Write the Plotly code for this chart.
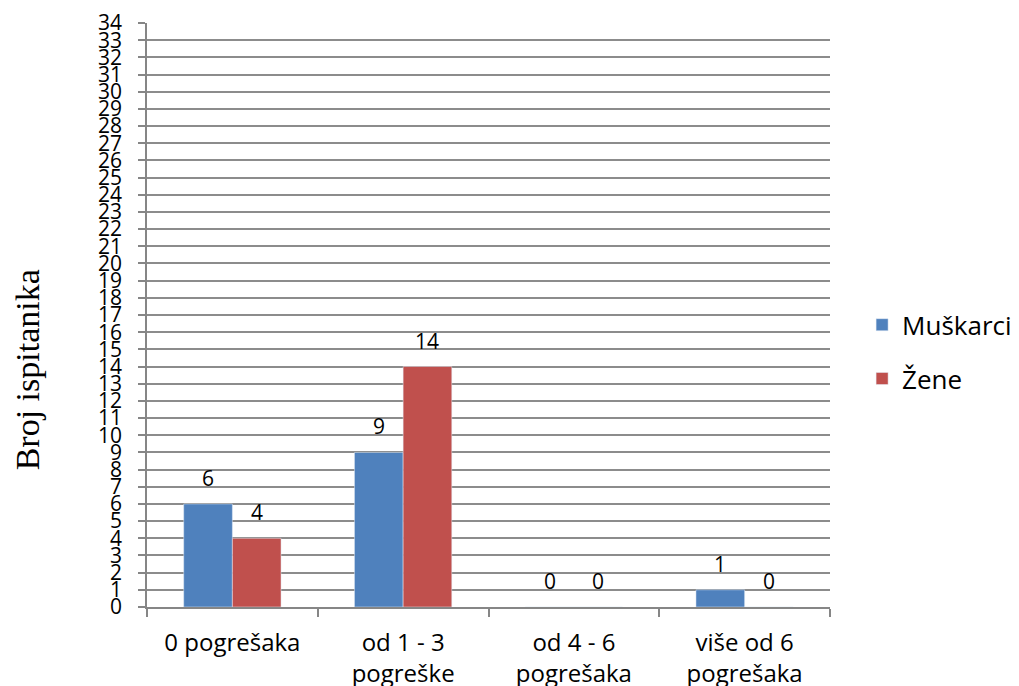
import plotly.graph_objects as go

categories = ["0 pogrešaka", "od 1 - 3<br>pogreške", "od 4 - 6<br>pogrešaka", "više od 6<br>pogrešaka"]
muskarci = [6, 9, 0, 1]
zene = [4, 14, 0, 0]
y_ticks = list(range(0, 35))

font_main = "Open Sans, Liberation Sans, sans-serif"

# layout geometry (page has an 8px body margin)
W, H = 1011, 678
ML, MR, MT, MB = 139, 189, 15, 79
BARGAP = 0.43
plot_w = W - ML - MR
cat_w = plot_w / len(categories)
bar_w = cat_w * (1 - BARGAP) / 2

fig = go.Figure()
fig.add_trace(go.Bar(x=categories, y=muskarci, name="Muškarci", marker_color="#4F81BD",
                     legendgroup="m"))
fig.add_trace(go.Bar(x=categories, y=zene, name="Žene", marker_color="#C0504D",
                     legendgroup="z"))

# data labels above each bar
for vals, sign in ((muskarci, -1), (zene, 1)):
    for c, v in zip(categories, vals):
        fig.add_annotation(x=c, y=v, text=str(v), showarrow=False,
                           xshift=sign * bar_w / 2, yshift=26,
                           xanchor="center", yanchor="middle",
                           font=dict(size=21, color="black", family=font_main))

fig.update_layout(
    width=W, height=H,
    margin=dict(l=ML, r=MR, t=MT, b=MB, autoexpand=False),
    paper_bgcolor="white", plot_bgcolor="white",
    barmode="group", bargap=BARGAP, bargroupgap=0,
    font=dict(family=font_main, size=18, color="black"),
    legend=dict(x=1.047, y=0.437, yanchor="middle", xanchor="left",
                font=dict(size=26), tracegroupgap=17, itemwidth=30),
    showlegend=True,
)
fig.update_xaxes(
    type="category", showline=True, linecolor="#868686", linewidth=1.5,
    ticks="outside", tickson="boundaries", ticklen=8, tickcolor="#868686", tickwidth=1.5,
    tickfont=dict(size=24), showgrid=False, automargin=False, ticklabelstandoff=13,
)
fig.update_yaxes(
    range=[0, 34], tickvals=y_ticks, ticktext=[str(v) for v in y_ticks],
    showgrid=True, gridcolor="#8c8c8c", gridwidth=1.5,
    showline=True, linecolor="#868686", linewidth=1.5,
    ticks="outside", ticklen=7, tickcolor="#868686", tickwidth=1.5,
    tickfont=dict(size=21), zeroline=False, automargin=False, ticklabelstandoff=12,
)
fig.add_annotation(text="Broj ispitanika", xref="paper", yref="paper",
                   x=-0.175, y=0.406, xanchor="center", yanchor="middle",
                   textangle=-90, showarrow=False,
                   font=dict(family="Liberation Serif, Times New Roman, serif", size=34, color="black"))

fig.write_html("out.html")
